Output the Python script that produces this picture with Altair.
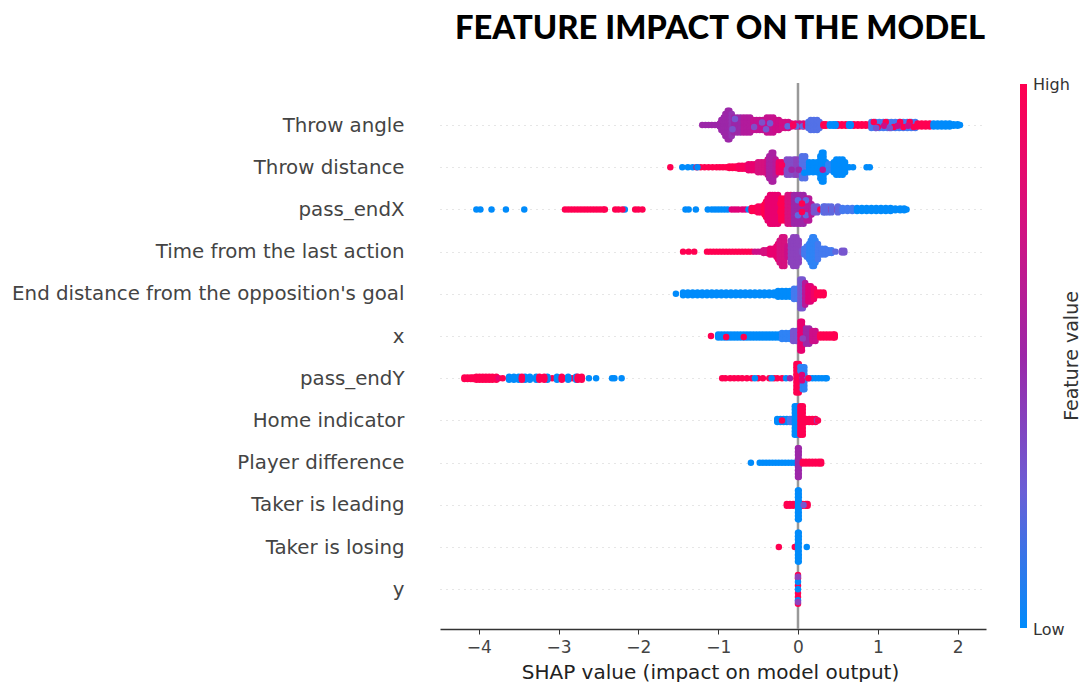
import altair as alt
import pandas as pd

title_text = "FEATURE IMPACT ON THE MODEL"
features = ["Throw angle", "Throw distance", "pass_endX", "Time from the last action",
            "End distance from the opposition's goal", "x", "pass_endY", "Home indicator",
            "Player difference", "Taker is leading", "Taker is losing", "y"]

# vertical spread of a swarm column, in row units
A = (0,)
T = (.02, -.02)
S = (0, .035, -.035)
B = (0, .07, -.07)
M = (0, .06, -.06, .12, -.12)
C = (0, .09, -.09, .18, -.18)
D = (0, .09, -.09, .18, -.18, .26, -.26)
E = (0, .09, -.09, .18, -.18, .26, -.26, .34, -.34)

# each row: (feature value 0-1, offsets, SHAP values)
row0 = [
    (.5, A, [-1.2, -1.16, -1.12, -1.08, -1.04, -1.0]), (.5, S, [-.98]), (.5, M, [-.96]), (.5, C, [-.93]), (.5, D, [-.91]),
    (.5, E, [-.88, -.86]), (.46, D, [-.83]), (.5, C, [-.8, -.76, -.72]), (.58, C, [-.68, -.64, -.6]),
    (.65, M, [-.56, -.52, -.48, -.44]), (.66, C, [-.39, -.35, -.31]), (.7, M, [-.28, -.24]),
    (.72, B, [-.2, -.16, -.12]), (.32, (.1,), [-.82]), (.3, (-.14,), [-.79]), (.35, (.05,), [-.55]),
    (.33, (-.06,), [-.45]), (.3, (.1,), [-.4]), (.28, (-.04,), [-.35]), (.7, S, [-.08, -.03, .02, .07]),
    (.2, (.03,), [-.13, -.02, .06]), (.95, T, [-.06, .1]), (.15, B, [.13]), (.15, M, [.16, .2, .24]), (.15, B, [.27]),
    (1, T, [.32, .35, .5, .55, .6, .7, .75, .8, .85, .9]), (0, T, [.4, .44, .47, .64, .66]),
    (.1, B, [.92, .97, 1.02, 1.07, 1.12, 1.17, 1.22, 1.27, 1.32, 1.37, 1.42, 1.47]),
    (1, (.05,), [1.0, 1.2, 1.32, 1.45]), (1, (-.07,), [.95, 1.1, 1.28, 1.4]), (.7, (.02,), [1.08, 1.25, 1.38]),
    (1, S, [1.5, 1.55, 1.6, 1.65]), (.3, (.07,), [.98, 1.15]), (0, S, [1.7, 1.75, 1.8, 1.85, 1.9]),
    (0, T, [1.95, 2.0]), (0, A, [2.03]),
]
row1 = [
    (1, A, [-1.6]), (0, A, [-1.45, -1.38, -1.32]), (1, A, [-1.27, -1.22, -1.17, -1.12, -1.07, -1.02, -.98, -.94, -.9]),
    (0, A, [-1.26]), (1, T, [-.86, -.82, -.78]), (.95, S, [-.74, -.7, -.66]), (.85, B, [-.62, -.58, -.54]),
    (.75, M, [-.5, -.46, -.42]), (.7, C, [-.38]), (.55, D, [-.36]), (.55, E, [-.33, -.31]), (.6, C, [-.28]),
    (.9, M, [-.24, -.2]), (.35, C, [-.14, -.1, -.05]), (.4, C, [-.02, .02]), (.15, D, [.05, .09]),
    (.5, (.06,), [-.08, .01]), (.95, (-.05,), [-.2]), (0, M, [.14, .19, .24]), (0, D, [.28]), (0, E, [.3, .32]), (0, M, [.35]),
    (.05, B, [.38, .42]), (0, M, [.45]), (0, C, [.48, .52, .56]), (0, M, [.59]), (0, A, [.64, .69]), (0, A, [.86, .9]),
    (0, (.13,), [.08]), (.6, (.06,), [.31]),
]
row2 = [
    (0, A, [-4.03, -3.98, -3.84, -3.66, -3.43]),
    (1, A, [-2.92, -2.88, -2.84, -2.8, -2.76, -2.72, -2.68, -2.64, -2.6, -2.56, -2.52, -2.48, -2.44, -2.42]),
    (0, A, [-2.17]), (1, A, [-2.29, -2.25, -2.2, -2.04, -2.0, -1.95]),
    (0, A, [-1.41, -1.37, -1.28, -1.13, -1.08, -1.04, -1.0, -.96, -.92, -.88]),
    (.8, A, [-.83, -.79, -.75, -.7, -.66]), (0, A, [-.62]), (1, S, [-.58, -.54]), (.95, B, [-.5, -.46]),
    (1, M, [-.42]), (1, C, [-.4]), (.85, D, [-.38]), (.85, E, [-.35, -.32, -.29, -.25]), (1, D, [-.21, -.17]), (.75, E, [-.13, -.09]),
    (.5, E, [-.05, -.01, .03, .07]), (.6, D, [.11, .14]), (.2, (.14, -.22), [.0, .1]), (1, (.06, -.14), [-.22, .05]), (.6, M, [.17]),
    (.3, B, [.2, .24]), (1, A, [.28]), (.15, B, [.32, .38]), (1, A, [.38, .46]), (.2, B, [.34, .42, .5]),
    (.1, S, [.56, .62, .68]), (0, S, [.74, .8, .86, .92, .98, 1.04, 1.1, 1.16]), (0, T, [1.22, 1.28, 1.33]), (0, A, [1.36]),
]
row3 = [
    (1, A, [-1.44, -1.37, -1.3, -1.14, -1.1, -1.06, -1.02, -.98, -.94, -.9, -.86, -.82, -.78, -.74, -.7, -.66, -.62, -.58]),
    (.7, A, [-.54, -.5, -.46]), (.75, S, [-.43, -.39]), (.85, B, [-.35, -.31]), (.85, M, [-.27]), (.85, C, [-.25]),
    (.75, D, [-.23]), (.75, E, [-.2, -.17]), (.7, M, [-.13]), (.4, D, [-.09]), (.4, E, [-.06, -.02]), (.4, D, [.01]), (.35, T, [.05]), (.1, B, [.08]), (.1, M, [.11]),
    (.05, C, [.14]), (.05, D, [.16]), (.05, E, [.18, .2]), (.05, D, [.22]), (.1, C, [.25]), (.1, B, [.3, .34]), (.1, S, [.38, .42]), (.2, A, [.47]), (.3, T, [.55, .58]),
]
row4 = [
    (0, A, [-1.53]), (0, S, [-1.44, -1.38, -1.32, -1.26, -1.2, -1.14, -1.08, -1.02, -.96, -.9, -.84, -.78, -.72, -.66, -.6, -.54, -.48, -.42, -.36, -.3]),
    (0, B, [-.25, -.2, -.15, -.1]), (.1, M, [-.05, -.01]), (.3, E, [.03, .06]), (.6, D, [.09]), (.8, C, [.13, .16]), (.9, M, [.2]),
    (1, S, [.24, .28, .32]),
]
row5 = [
    (1, A, [-1.09]), (0, S, [-1.0, -.96, -.92, -.88, -.84, -.8, -.76, -.72, -.68, -.64, -.6, -.56, -.52, -.48, -.44, -.4, -.36, -.32, -.28, -.24]),
    (1, (.02,), [-.9, -.68]), (.05, B, [-.2, -.15, -.1]), (.3, M, [-.06, -.02]), (.85, E, [.03, .05]),
    (.5, C, [.1, .14]), (.7, M, [.18, .22]), (.4, (.06,), [.06]), (1, S, [.28, .32, .36, .4, .44, .46]),
]
row6 = [
    (1, T, [-4.18, -4.14, -4.1, -4.07]), (1, S, [-4.03, -3.99, -3.95, -3.91, -3.87, -3.83, -3.78]),
    (.85, A, [-3.75]), (1, A, [-3.7, -3.2, -3.08, -2.94, -2.83, -2.72]),
    (0, S, [-3.62, -3.56, -3.5, -3.42, -3.36, -3.28, -3.14, -3.02, -2.88, -2.78]),
    (1, S, [-3.46, -3.24, -3.18, -2.96, -2.76, -2.71]), (0, A, [-2.62, -2.53, -2.33, -2.3, -2.21]),
    (1, A, [-.95, -.91, -.85, -.8, -.75, -.7, -.64, -.58, -.5, -.44, -.36, -.3, -.26, -.2]),
    (0, A, [-.54, -.33, -.15]), (.5, A, [-.1]), (1, E, [-.02, .01]), (.05, D, [.06, .08]), (.05, (-.27, -.18), [.03]),
    (.8, (.05, -.08), [.05]), (0, A, [.14, .18, .22, .26, .3, .34, .36]),  (1, A, [.13]),
]
row7 = [
    (0, S, [-.26, -.22, -.18, -.14]), (1, A, [-.2]), (.1, S, [-.1, -.07]), (0, E, [-.04, -.01]),
    (1, E, [.03, .06]), (1, S, [.1, .14, .18, .22]), (.3, A, [.24]), (1, A, [.25]),
]
row8 = [
    (0, A, [-.59, -.48, -.44, -.4, -.36, -.32, -.28, -.24, -.2, -.16, -.12, -.08, -.04]), (.5, E, [0, .01]),
    (1, T, [.06, .1, .14, .18, .22, .26, .29]),
]
row9 = [
    (1, T, [-.14, -.1, -.06, .06, .1, .12]), (0, E, [0, .01]), (.3, A, [.07]),
]
row10 = [
    (1, A, [-.24, -.04]), (0, E, [0, .01]), (0, A, [.11]),
]
row11 = [
    (1, (-.34, -.26, -.09, .09, .18, .34), [0]), (0, (-.18, 0, .26), [0]),
    (.4, (-.3, .3), [0]),
]
rows = [row0, row1, row2, row3, row4, row5, row6, row7, row8, row9, row10, row11]

records = []
for i, row in enumerate(rows):
    for colour, offsets, values in row:
        for v in values:
            for o in offsets:
                records.append({"shap": v, "row": i + o, "value": colour})
points = pd.DataFrame(records)

label_expr = "[" + ",".join('"%s"' % f for f in features) + "][datum.value]"

W, H = 546, 546
colour_scale = alt.Scale(domain=[0, .25, .5, .75, 1],
                         range=["#008bfb", "#6a5fd6", "#9c27a8", "#d5117f", "#ff0051"])
x_scale = alt.Scale(domain=[-4.486, 2.356], nice=False, zero=False)
y_scale = alt.Scale(domain=[11.94, -0.995], nice=False, zero=False)
x_axis = alt.Axis(values=[-4, -3, -2, -1, 0, 1, 2], grid=False, domainColor="#333333", domainWidth=1.6,
                  tickColor="#333333", tickSize=5, tickWidth=1, labelFontSize=17, labelColor="#444444",
                  labelFont="DejaVu Sans", titleFont="DejaVu Sans", titleFontSize=20, titleFontWeight="normal",
                  titleColor="#222222", titlePadding=7, labelPadding=5, labelFlush=False, titleX=270,
                  title="SHAP value (impact on model output)")

zero = alt.Chart(pd.DataFrame({"x": [0]})).mark_rule(color="#999999", strokeWidth=2.5).encode(
    x=alt.X("x:Q", scale=x_scale, axis=x_axis), y=alt.value(0), y2=alt.value(H))

swarm = alt.Chart(points).mark_circle(size=42, opacity=1).encode(
    x=alt.X("shap:Q", scale=x_scale, axis=x_axis),
    y=alt.Y("row:Q", scale=y_scale, title=None,
            axis=alt.Axis(values=list(range(12)), labelExpr=label_expr, domain=False, ticks=False, grid=True,
                          gridDash=[1, 5], gridColor="#cccccc", gridWidth=1, labelFontSize=19.8, labelColor="#444444",
                          labelFont="DejaVu Sans", labelPadding=36, labelLimit=0)),
    color=alt.Color("value:Q", scale=colour_scale, legend=None),
)

bar = alt.Chart(pd.DataFrame({"b": [0]})).mark_rect(
    color=alt.Gradient(gradient="linear", x1=0, x2=0, y1=1, y2=0,
                       stops=[alt.GradientStop(color="#008bfb", offset=0),
                              alt.GradientStop(color="#6a5fd6", offset=.25),
                              alt.GradientStop(color="#9c27a8", offset=.5),
                              alt.GradientStop(color="#d5117f", offset=.75),
                              alt.GradientStop(color="#ff0051", offset=1)])
).encode(x=alt.value(580), x2=alt.value(587), y=alt.value(1), y2=alt.value(545))

def label(text, x, y, **kw):
    return alt.Chart(pd.DataFrame({"t": [text]})).mark_text(font="DejaVu Sans", color="#333333", **kw).encode(
        x=alt.value(x), y=alt.value(y), text="t:N")

high = label("High", 593, 2, fontSize=16, align="left", baseline="middle")
low = label("Low", 593, 547, fontSize=16, align="left", baseline="middle")
cbar_title = label("Feature value", 632, 273, fontSize=19, angle=270, align="center", baseline="middle")
heading = alt.Chart(pd.DataFrame({"t": [title_text]})).mark_text(
    font="Lato", fontSize=32.8, fontWeight=900, color="#000000", align="center", baseline="middle"
).encode(x=alt.value(280), y=alt.value(-54), text="t:N")

chart = alt.layer(zero, swarm, bar, high, low, cbar_title, heading).properties(
    width=W, height=H,
    autosize=alt.AutoSizeParams(type="none"),
    padding={"left": 432, "top": 75, "right": 96, "bottom": 53},
).configure_view(strokeOpacity=0)

chart.save("out.html", embed_options={"renderer": "svg", "actions": False})
